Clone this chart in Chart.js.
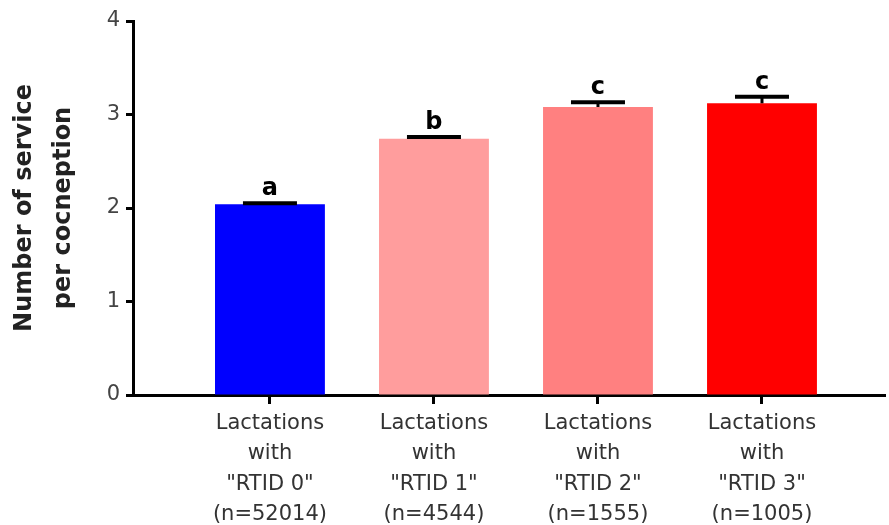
<!DOCTYPE html>
<html>
<head>
<meta charset="utf-8">
<script src="https://cdn.jsdelivr.net/npm/chart.js@4"></script>
<style>
  html, body { margin: 0; padding: 0; background: #fff; }
  #wrap { width: 889px; height: 525px; }
</style>
</head>
<body>
<div id="wrap"><canvas id="chart"></canvas></div>
<script>
// Data
const categories = [
    ['Lactations', 'with', '"RTID 0"', '(n=52014)'],
    ['Lactations', 'with', '"RTID 1"', '(n=4544)'],
    ['Lactations', 'with', '"RTID 2"', '(n=1555)'],
    ['Lactations', 'with', '"RTID 3"', '(n=1005)']
];
const meanValues = [2.04, 2.74, 3.08, 3.12];
const errorValues = [0.01, 0.02, 0.05, 0.07];
const groupLetters = ['a', 'b', 'c', 'c'];
const barColors = ['#0000ff', '#ff9d9d', '#ff8080', '#ff0000'];
const yTicks = [0, 1, 2, 3, 4];

const fontFamily = '"DejaVu Sans", Verdana, sans-serif';

// Error bar caps and significance letters above each bar
const errorBarPlugin = {
    id: 'errorBars',
    afterDatasetsDraw(chart) {
        const ctx = chart.ctx;
        const yScale = chart.scales.y;
        const meta = chart.getDatasetMeta(0);
        ctx.save();
        meta.data.forEach((bar, i) => {
            const top = yScale.getPixelForValue(meanValues[i]);
            const capY = yScale.getPixelForValue(meanValues[i] + errorValues[i]);
            ctx.strokeStyle = '#000';
            ctx.lineWidth = 3;
            ctx.beginPath();
            ctx.moveTo(bar.x, top);
            ctx.lineTo(bar.x, capY);
            ctx.stroke();
            ctx.lineWidth = 4;
            ctx.beginPath();
            ctx.moveTo(bar.x - 27, capY);
            ctx.lineTo(bar.x + 27, capY);
            ctx.stroke();

            ctx.fillStyle = '#000';
            ctx.font = 'bold 24px ' + fontFamily;
            ctx.textAlign = 'center';
            ctx.textBaseline = 'alphabetic';
            ctx.fillText(groupLetters[i], bar.x, capY - 8);
        });
        ctx.restore();
    }
};

new Chart(document.getElementById('chart').getContext('2d'), {
    type: 'bar',
    data: {
        datasets: [{
            data: meanValues.map((v, i) => ({ x: i, y: v })),
            backgroundColor: barColors,
            borderWidth: 0,
            barPercentage: 0.67,
            categoryPercentage: 1
        }]
    },
    options: {
        responsive: true,
        maintainAspectRatio: false,
        animation: false,
        layout: { padding: { top: 21, right: 4, left: 0, bottom: 0 } },
        plugins: {
            legend: { display: false },
            tooltip: { enabled: false }
        },
        scales: {
            x: {
                type: 'linear',
                offset: false,
                min: -0.835,
                max: 3.75,
                afterBuildTicks(scale) {
                    scale.ticks = categories.map((_, i) => ({ value: i }));
                },
                afterFit(scale) { scale.height = 130; },
                border: { color: '#000', width: 3 },
                grid: { offset: false, drawOnChartArea: false, tickColor: '#000', tickWidth: 3, tickLength: 9 },
                ticks: {
                    autoSkip: false,
                    maxRotation: 0,
                    padding: 4,
                    color: '#333',
                    font: { family: fontFamily, size: 21, lineHeight: 1.45 },
                    callback: (value) => categories[value]
                }
            },
            y: {
                min: 0,
                max: 4,
                afterBuildTicks(scale) {
                    scale.ticks = yTicks.map(v => ({ value: v }));
                },
                afterFit(scale) { scale.width = 133; },
                border: { color: '#000', width: 3 },
                grid: { drawOnChartArea: false, tickColor: '#000', tickWidth: 3, tickLength: 7 },
                ticks: {
                    padding: 6,
                    color: '#444',
                    font: { family: fontFamily, size: 21 }
                },
                title: {
                    display: true,
                    text: ['Number of service', 'per cocneption'],
                    color: '#222',
                    padding: { top: 6, bottom: 0 },
                    font: { family: fontFamily, size: 24, weight: 'bold', lineHeight: 1.6 }
                }
            }
        }
    },
    plugins: [errorBarPlugin]
});
</script>
</body>
</html>
